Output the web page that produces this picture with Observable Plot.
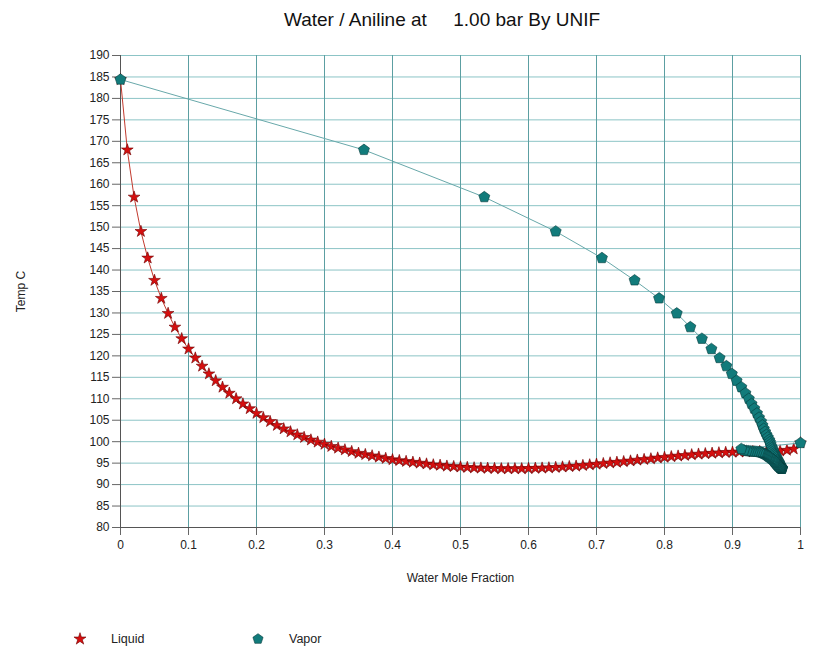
<!DOCTYPE html>
<html>
<head>
<meta charset="utf-8">
<script src="https://cdn.jsdelivr.net/npm/d3@7"></script>
<script src="https://cdn.jsdelivr.net/npm/@observablehq/plot@0.6"></script>
<style>
  body { margin: 0; background: #fff; font-family: "Liberation Sans", Arial, sans-serif; }
  #wrap { position: relative; width: 825px; height: 653px; overflow: hidden; background: #fff; }
  #title { position: absolute; z-index: 2; top: 9px; left: 0; width: 884px; text-align: center; font-size: 19px; color: #111; white-space: pre; }
  #chart { position: absolute; z-index: 1; top: 0; left: 0; }
  .leg { position: absolute; z-index: 2; top: 632px; font-size: 12.5px; color: #222; display: flex; align-items: center; }
  .leg svg { margin-right: 24px; }
</style>
</head>
<body>
<div id="wrap">
  <div id="chart"></div>
  <div id="title">Water / Aniline at     1.00 bar By UNIF</div>
  <div class="leg" id="legLiquid" style="left:73px"></div>
  <div class="leg" id="legVapor" style="left:251px"></div>
</div>
<script>
// Liquid mole fraction of water
const liquidX = [
  0.00, 0.01, 0.02, 0.03, 0.04, 0.05, 0.06, 0.07, 0.08, 0.09,
  0.10, 0.11, 0.12, 0.13, 0.14, 0.15, 0.16, 0.17, 0.18, 0.19,
  0.20, 0.21, 0.22, 0.23, 0.24, 0.25, 0.26, 0.27, 0.28, 0.29,
  0.30, 0.31, 0.32, 0.33, 0.34, 0.35, 0.36, 0.37, 0.38, 0.39,
  0.40, 0.41, 0.42, 0.43, 0.44, 0.45, 0.46, 0.47, 0.48, 0.49,
  0.50, 0.51, 0.52, 0.53, 0.54, 0.55, 0.56, 0.57, 0.58, 0.59,
  0.60, 0.61, 0.62, 0.63, 0.64, 0.65, 0.66, 0.67, 0.68, 0.69,
  0.70, 0.71, 0.72, 0.73, 0.74, 0.75, 0.76, 0.77, 0.78, 0.79,
  0.80, 0.81, 0.82, 0.83, 0.84, 0.85, 0.86, 0.87, 0.88, 0.89,
  0.90, 0.91, 0.92, 0.93, 0.94, 0.95, 0.96, 0.97, 0.98, 0.99,
  1.00
];
// Temperature (C)
const tempC = [
  184.4, 168.0, 157.0, 149.0, 142.8, 137.6, 133.4, 129.9, 126.7, 124.0,
  121.6, 119.5, 117.6, 115.8, 114.2, 112.7, 111.3, 110.0, 108.8, 107.7,
  106.6, 105.6, 104.7, 103.8, 103.0, 102.3, 101.6, 101.0, 100.4, 99.9,
  99.4, 98.9, 98.5, 98.1, 97.7, 97.3, 97.0, 96.7, 96.4, 96.1,
  95.8, 95.6, 95.4, 95.2, 95.0, 94.8, 94.6, 94.5, 94.3, 94.2,
  94.1, 94.0, 93.9, 93.85, 93.8, 93.75, 93.7, 93.7, 93.7, 93.7,
  93.75, 93.8, 93.85, 93.9, 94.0, 94.1, 94.2, 94.3, 94.45, 94.6,
  94.75, 94.9, 95.05, 95.2, 95.35, 95.5, 95.7, 95.85, 96.0, 96.2,
  96.35, 96.5, 96.65, 96.8, 96.95, 97.1, 97.2, 97.3, 97.4, 97.5,
  97.55, 97.6, 97.65, 97.7, 97.7, 97.75, 97.8, 97.85, 98.0, 98.3,
  99.7
];
// Vapor mole fraction of water in equilibrium
const vaporY = [
  0.000, 0.358, 0.535, 0.640, 0.708, 0.756, 0.792, 0.818, 0.838, 0.855,
  0.869, 0.881, 0.891, 0.899, 0.906, 0.913, 0.919, 0.924, 0.928, 0.932,
  0.936, 0.939, 0.942, 0.944, 0.946, 0.948, 0.950, 0.952, 0.954, 0.955,
  0.956, 0.957, 0.958, 0.959, 0.960, 0.961, 0.962, 0.963, 0.964, 0.965,
  0.966, 0.9665, 0.967, 0.968, 0.9685, 0.969, 0.9695, 0.970, 0.9705, 0.971,
  0.9713, 0.9716, 0.972, 0.9722, 0.9725, 0.9727, 0.973, 0.9725, 0.9722, 0.972,
  0.9715, 0.971, 0.9705, 0.970, 0.9695, 0.969, 0.968, 0.9672, 0.9664, 0.9656,
  0.9648, 0.964, 0.9632, 0.9624, 0.9616, 0.961, 0.960, 0.9588, 0.9575, 0.956,
  0.9548, 0.9535, 0.952, 0.951, 0.9495, 0.948, 0.9465, 0.945, 0.9435, 0.942,
  0.9405, 0.939, 0.936, 0.933, 0.930, 0.927, 0.924, 0.921, 0.917, 0.913,
  1.000
];
const xTicks = [0, 0.1, 0.2, 0.3, 0.4, 0.5, 0.6, 0.7, 0.8, 0.9, 1];
const yTicks = [80, 85, 90, 95, 100, 105, 110, 115, 120, 125, 130, 135, 140, 145, 150, 155, 160, 165, 170, 175, 180, 185, 190];

const liquid = liquidX.map((x, i) => ({x, t: tempC[i]}));
const vapor = vaporY.map((x, i) => ({x, t: tempC[i]}));

const pentagon = {
  draw(ctx, size) {
    const r = Math.sqrt(size / Math.PI);
    for (let i = 0; i < 5; i++) {
      const a = -Math.PI / 2 + i * 2 * Math.PI / 5;
      const px = r * Math.cos(a), py = r * Math.sin(a);
      if (i) ctx.lineTo(px, py); else ctx.moveTo(px, py);
    }
    ctx.closePath();
  }
};

const liqFill = "#d50f0f", liqStroke = "#6e0000";
const vapFill = "#127b7b", vapStroke = "#063c3c";

const chart = Plot.plot({
  width: 825,
  height: 600,
  marginLeft: 120,
  marginRight: 25,
  marginTop: 55,
  marginBottom: 73,
  style: {fontFamily: "Liberation Sans, Arial, sans-serif", fontSize: "12px", color: "#222", background: "white"},
  x: {domain: [0, 1]},
  y: {domain: [80, 190]},
  marks: [
    Plot.gridY(yTicks, {stroke: "#8cc4c6", strokeOpacity: 1, strokeWidth: 1}),
    Plot.gridX(xTicks, {stroke: "#5c9fa2", strokeOpacity: 1, strokeWidth: 1}),
    Plot.axisX(xTicks, {tickSize: 8, tickPadding: 5, stroke: "#666", fill: "#222", tickFormat: d => String(d),
      label: "Water Mole Fraction", labelAnchor: "center", labelOffset: 54, labelArrow: "none"}),
    Plot.axisY(yTicks, {tickSize: 8, tickPadding: 3, stroke: "#666", fill: "#222",
      label: "Temp C", labelAnchor: "center", labelOffset: 104, labelArrow: "none"}),
    Plot.ruleX([0], {stroke: "#555"}),
    Plot.ruleY([80], {stroke: "#555"}),
    Plot.line(liquid, {x: "x", y: "t", stroke: "#c23a2e", strokeWidth: 1}),
    Plot.dot(liquid, {x: "x", y: "t", symbol: "star", r: 3.7, fill: liqFill, stroke: liqStroke, strokeWidth: 0.6}),
    Plot.line(vapor, {x: "x", y: "t", stroke: "#68a8aa", strokeWidth: 1}),
    Plot.dot(vapor, {x: "x", y: "t", symbol: pentagon, r: 5.8, fill: vapFill, stroke: vapStroke, strokeWidth: 0.6})
  ]
});
document.getElementById("chart").appendChild(chart);

function swatch(el, type, fill, stroke, size, label) {
  const svg = d3.create("svg").attr("width", 14).attr("height", 14);
  svg.append("path")
    .attr("transform", "translate(7,7)")
    .attr("d", d3.symbol(type, size)())
    .attr("fill", fill).attr("stroke", stroke).attr("stroke-width", 0.6);
  el.appendChild(svg.node());
  const s = document.createElement("span");
  s.textContent = label;
  el.appendChild(s);
}
swatch(document.getElementById("legLiquid"), d3.symbolStar, liqFill, liqStroke, 45, "Liquid");
swatch(document.getElementById("legVapor"), pentagon, vapFill, vapStroke, 90, "Vapor");
</script>
</body>
</html>
